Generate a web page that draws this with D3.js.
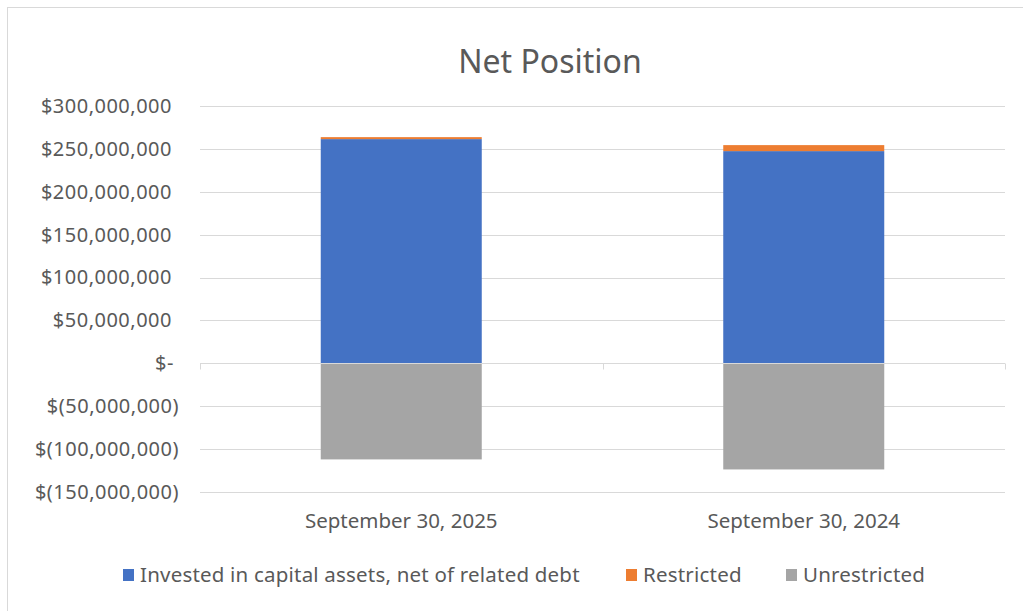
<html>
<head>
  <meta charset="UTF-8">
  <script src="https://d3js.org/d3.v7.min.js"></script>
  <style>
    body { margin: 0; background: #fff; }
    text { font-family: "Noto Sans", sans-serif; fill: #595959; }
  </style>
</head>
<body>
  <svg id="chart" width="1023" height="611"></svg>
  <script>
    // Data
    const categories = [ "September 30, 2025", "September 30, 2024" ];
    const invested = [ 261400000, 247400000 ];
    const restricted = [ 2300000, 7000000 ];
    const unrestricted = [ -112000000, -123700000 ];
    const seriesNames = [ "Invested in capital assets, net of related debt", "Restricted", "Unrestricted" ];
    const colors = [ "#4472c4", "#ed7d31", "#a5a5a5" ];
    const yTicks = [ -150000000, -100000000, -50000000, 0, 50000000, 100000000, 150000000, 200000000, 250000000, 300000000 ];

    const svg = d3.select( "#chart" );

    // chart frame
    svg.append( "rect" )
      .attr( "x", 7.5 ).attr( "y", 7.5 )
      .attr( "width", 1030 ).attr( "height", 620 )
      .attr( "fill", "none" ).attr( "stroke", "#d9d9d9" );

    const plotLeft = 200, plotRight = 1005, plotTop = 106, plotBottom = 492;

    const y = d3.scaleLinear()
      .domain( [ -150000000, 300000000 ] )
      .range( [ plotBottom, plotTop ] );

    const x = d3.scaleBand()
      .domain( categories )
      .range( [ plotLeft, plotRight ] )
      .paddingInner( 0.6 )
      .paddingOuter( 0.3 );

    // money format like Excel accounting
    const fmt = d3.format( ",.0f" );
    function money( v ) {
      if ( v === 0 ) return "$-";
      if ( v < 0 ) return "$(" + fmt( -v ) + ")";
      return "$" + fmt( v );
    }

    // gridlines
    svg.append( "g" )
      .selectAll( "line" )
      .data( yTicks.filter( d => d !== 0 ) )
      .enter().append( "line" )
      .attr( "x1", plotLeft ).attr( "x2", plotRight )
      .attr( "y1", d => Math.round( y( d ) ) + 0.5 )
      .attr( "y2", d => Math.round( y( d ) ) + 0.5 )
      .attr( "stroke", "#d9d9d9" ).attr( "stroke-width", 1 );

    // y axis labels (negatives hang their closing paren a bit further right)
    const yAxis = svg.append( "g" )
      .attr( "transform", "translate(" + 172 + ",0)" )
      .call( d3.axisLeft( y ).tickValues( yTicks ).tickFormat( money ).tickSize( 0 ).tickPadding( 0 ) );
    yAxis.select( ".domain" ).remove();
    yAxis.selectAll( "text" )
      .style( "font-size", "20px" )
      .style( "letter-spacing", "0.5px" )
      .attr( "fill", "#595959" )
      .attr( "x", d => d < 0 ? 7 : ( d === 0 ? 2 : 0 ) );

    // stacked bars
    const stackData = categories.map( ( c, i ) => ( { cat: c, pos: [ invested[ i ], restricted[ i ] ], neg: unrestricted[ i ] } ) );
    const bars = svg.append( "g" );
    stackData.forEach( d => {
      let base = 0;
      d.pos.forEach( ( v, k ) => {
        bars.append( "rect" )
          .attr( "x", x( d.cat ) )
          .attr( "width", x.bandwidth() )
          .attr( "y", y( base + v ) )
          .attr( "height", y( base ) - y( base + v ) )
          .attr( "fill", colors[ k ] );
        base += v;
      } );
      bars.append( "rect" )
        .attr( "x", x( d.cat ) )
        .attr( "width", x.bandwidth() )
        .attr( "y", y( 0 ) )
        .attr( "height", y( d.neg ) - y( 0 ) )
        .attr( "fill", colors[ 2 ] );
    } );

    // category axis along zero
    const xAxis = svg.append( "g" )
      .attr( "transform", "translate(0," + ( Math.round( y( 0 ) ) + 0.5 ) + ")" );
    xAxis.append( "line" )
      .attr( "x1", plotLeft ).attr( "x2", plotRight )
      .attr( "stroke", "#d9d9d9" );
    const tickPos = [ plotLeft ].concat( categories.map( c => x( c ) + x.bandwidth() / 2 + x.step() / 2 ) );
    xAxis.selectAll( ".tk" )
      .data( tickPos )
      .enter().append( "line" )
      .attr( "x1", d => Math.round( d ) + 0.5 ).attr( "x2", d => Math.round( d ) + 0.5 )
      .attr( "y1", 0 ).attr( "y2", 6 )
      .attr( "stroke", "#d9d9d9" );

    // category labels at bottom
    svg.append( "g" )
      .selectAll( "text" )
      .data( categories )
      .enter().append( "text" )
      .attr( "x", d => x( d ) + x.bandwidth() / 2 )
      .attr( "y", 528 )
      .attr( "text-anchor", "middle" )
      .style( "font-size", "20.5px" )
      .text( d => d );

    // title
    svg.append( "text" )
      .attr( "x", 550 ).attr( "y", 73 )
      .attr( "text-anchor", "middle" )
      .style( "font-size", "32px" )
      .text( "Net Position" );

    // legend
    const legendX = [ 123, 626, 786 ];
    const legend = svg.append( "g" );
    seriesNames.forEach( ( name, i ) => {
      legend.append( "rect" )
        .attr( "x", legendX[ i ] ).attr( "y", 569 )
        .attr( "width", 11 ).attr( "height", 12 )
        .attr( "fill", colors[ i ] );
      legend.append( "text" )
        .attr( "x", legendX[ i ] + 17 ).attr( "y", 582 )
        .style( "font-size", "20.5px" )
        .style( "letter-spacing", "0.2px" )
        .text( name );
    } );
  </script>
</body>
</html>
